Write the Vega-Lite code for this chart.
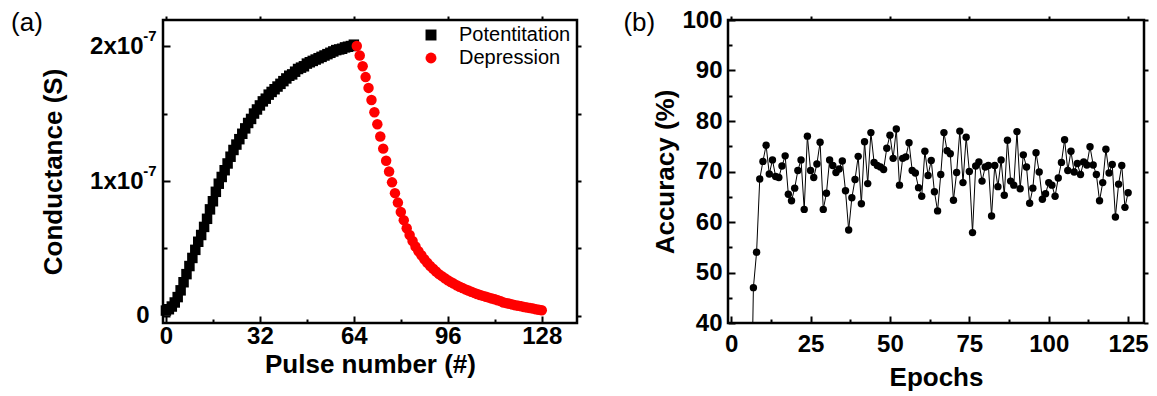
{
"$schema": "https://vega.github.io/schema/vega-lite/v6.json",
"padding": {"left": 9, "top": 6, "right": 5, "bottom": 5},
"spacing": 38,
"config": {
  "font": "Liberation Sans",
  "view": {"stroke": "black", "strokeWidth": 2.5},
  "axis": {"domain": false, "grid": false, "labelFont": "Liberation Sans", "labelFontWeight": "bold", "labelFontSize": 24, "labelColor": "black", "titleFont": "Liberation Sans", "titleFontWeight": "bold", "titleFontSize": 26, "titleColor": "black", "tickColor": "black", "tickWidth": 2}
},
"datasets": {
"cond": [
{"p":0,"g":0.04e-7,"t":"Potentitation"},{"p":1,"g":0.05e-7,"t":"Potentitation"},{"p":2,"g":0.07e-7,"t":"Potentitation"},{"p":3,"g":0.10e-7,"t":"Potentitation"},{"p":4,"g":0.14e-7,"t":"Potentitation"},{"p":5,"g":0.19e-7,"t":"Potentitation"},{"p":6,"g":0.25e-7,"t":"Potentitation"},{"p":7,"g":0.31e-7,"t":"Potentitation"},{"p":8,"g":0.37e-7,"t":"Potentitation"},{"p":9,"g":0.43e-7,"t":"Potentitation"},{"p":10,"g":0.49e-7,"t":"Potentitation"},{"p":11,"g":0.55e-7,"t":"Potentitation"},{"p":12,"g":0.60e-7,"t":"Potentitation"},{"p":13,"g":0.66e-7,"t":"Potentitation"},{"p":14,"g":0.72e-7,"t":"Potentitation"},{"p":15,"g":0.79e-7,"t":"Potentitation"},{"p":16,"g":0.85e-7,"t":"Potentitation"},{"p":17,"g":0.92e-7,"t":"Potentitation"},{"p":18,"g":0.98e-7,"t":"Potentitation"},{"p":19,"g":1.03e-7,"t":"Potentitation"},{"p":20,"g":1.08e-7,"t":"Potentitation"},{"p":21,"g":1.13e-7,"t":"Potentitation"},{"p":22,"g":1.18e-7,"t":"Potentitation"},{"p":23,"g":1.23e-7,"t":"Potentitation"},{"p":24,"g":1.27e-7,"t":"Potentitation"},{"p":25,"g":1.31e-7,"t":"Potentitation"},{"p":26,"g":1.35e-7,"t":"Potentitation"},{"p":27,"g":1.39e-7,"t":"Potentitation"},{"p":28,"g":1.43e-7,"t":"Potentitation"},{"p":29,"g":1.46e-7,"t":"Potentitation"},{"p":30,"g":1.50e-7,"t":"Potentitation"},{"p":31,"g":1.53e-7,"t":"Potentitation"},{"p":32,"g":1.56e-7,"t":"Potentitation"},{"p":33,"g":1.59e-7,"t":"Potentitation"},{"p":34,"g":1.61e-7,"t":"Potentitation"},{"p":35,"g":1.64e-7,"t":"Potentitation"},{"p":36,"g":1.66e-7,"t":"Potentitation"},{"p":37,"g":1.68e-7,"t":"Potentitation"},{"p":38,"g":1.70e-7,"t":"Potentitation"},{"p":39,"g":1.72e-7,"t":"Potentitation"},{"p":40,"g":1.74e-7,"t":"Potentitation"},{"p":41,"g":1.76e-7,"t":"Potentitation"},{"p":42,"g":1.78e-7,"t":"Potentitation"},{"p":43,"g":1.79e-7,"t":"Potentitation"},{"p":44,"g":1.81e-7,"t":"Potentitation"},{"p":45,"g":1.83e-7,"t":"Potentitation"},{"p":46,"g":1.84e-7,"t":"Potentitation"},{"p":47,"g":1.85e-7,"t":"Potentitation"},{"p":48,"g":1.87e-7,"t":"Potentitation"},{"p":49,"g":1.88e-7,"t":"Potentitation"},{"p":50,"g":1.89e-7,"t":"Potentitation"},{"p":51,"g":1.90e-7,"t":"Potentitation"},{"p":52,"g":1.91e-7,"t":"Potentitation"},{"p":53,"g":1.92e-7,"t":"Potentitation"},{"p":54,"g":1.93e-7,"t":"Potentitation"},{"p":55,"g":1.94e-7,"t":"Potentitation"},{"p":56,"g":1.95e-7,"t":"Potentitation"},{"p":57,"g":1.96e-7,"t":"Potentitation"},{"p":58,"g":1.97e-7,"t":"Potentitation"},{"p":59,"g":1.975e-7,"t":"Potentitation"},{"p":60,"g":1.98e-7,"t":"Potentitation"},{"p":61,"g":1.99e-7,"t":"Potentitation"},{"p":62,"g":1.995e-7,"t":"Potentitation"},{"p":63,"g":2.00e-7,"t":"Potentitation"},{"p":64,"g":2.01e-7,"t":"Potentitation"},
{"p":65,"g":2.00e-7,"t":"Depression"},{"p":66,"g":1.93e-7,"t":"Depression"},{"p":67,"g":1.85e-7,"t":"Depression"},{"p":68,"g":1.77e-7,"t":"Depression"},{"p":69,"g":1.69e-7,"t":"Depression"},{"p":70,"g":1.60e-7,"t":"Depression"},{"p":71,"g":1.51e-7,"t":"Depression"},{"p":72,"g":1.42e-7,"t":"Depression"},{"p":73,"g":1.33e-7,"t":"Depression"},{"p":74,"g":1.24e-7,"t":"Depression"},{"p":75,"g":1.15e-7,"t":"Depression"},{"p":76,"g":1.07e-7,"t":"Depression"},{"p":77,"g":0.99e-7,"t":"Depression"},{"p":78,"g":0.91e-7,"t":"Depression"},{"p":79,"g":0.84e-7,"t":"Depression"},{"p":80,"g":0.77e-7,"t":"Depression"},{"p":81,"g":0.71e-7,"t":"Depression"},{"p":82,"g":0.65e-7,"t":"Depression"},{"p":83,"g":0.60e-7,"t":"Depression"},{"p":84,"g":0.555e-7,"t":"Depression"},{"p":85,"g":0.515e-7,"t":"Depression"},{"p":86,"g":0.48e-7,"t":"Depression"},{"p":87,"g":0.45e-7,"t":"Depression"},{"p":88,"g":0.42e-7,"t":"Depression"},{"p":89,"g":0.395e-7,"t":"Depression"},{"p":90,"g":0.37e-7,"t":"Depression"},{"p":91,"g":0.35e-7,"t":"Depression"},{"p":92,"g":0.33e-7,"t":"Depression"},{"p":93,"g":0.31e-7,"t":"Depression"},{"p":94,"g":0.295e-7,"t":"Depression"},{"p":95,"g":0.28e-7,"t":"Depression"},{"p":96,"g":0.265e-7,"t":"Depression"},{"p":97,"g":0.252e-7,"t":"Depression"},{"p":98,"g":0.24e-7,"t":"Depression"},{"p":99,"g":0.228e-7,"t":"Depression"},{"p":100,"g":0.217e-7,"t":"Depression"},{"p":101,"g":0.207e-7,"t":"Depression"},{"p":102,"g":0.197e-7,"t":"Depression"},{"p":103,"g":0.188e-7,"t":"Depression"},{"p":104,"g":0.179e-7,"t":"Depression"},{"p":105,"g":0.171e-7,"t":"Depression"},{"p":106,"g":0.163e-7,"t":"Depression"},{"p":107,"g":0.156e-7,"t":"Depression"},{"p":108,"g":0.149e-7,"t":"Depression"},{"p":109,"g":0.142e-7,"t":"Depression"},{"p":110,"g":0.136e-7,"t":"Depression"},{"p":111,"g":0.13e-7,"t":"Depression"},{"p":112,"g":0.124e-7,"t":"Depression"},{"p":113,"g":0.117e-7,"t":"Depression"},{"p":114,"g":0.11e-7,"t":"Depression"},{"p":115,"g":0.10e-7,"t":"Depression"},{"p":116,"g":0.095e-7,"t":"Depression"},{"p":117,"g":0.09e-7,"t":"Depression"},{"p":118,"g":0.085e-7,"t":"Depression"},{"p":119,"g":0.08e-7,"t":"Depression"},{"p":120,"g":0.076e-7,"t":"Depression"},{"p":121,"g":0.072e-7,"t":"Depression"},{"p":122,"g":0.067e-7,"t":"Depression"},{"p":123,"g":0.063e-7,"t":"Depression"},{"p":124,"g":0.059e-7,"t":"Depression"},{"p":125,"g":0.055e-7,"t":"Depression"},{"p":126,"g":0.05e-7,"t":"Depression"},{"p":127,"g":0.046e-7,"t":"Depression"},{"p":128,"g":0.042e-7,"t":"Depression"}
],
"acc": [
{"e":1,"a":10},{"e":2,"a":10},{"e":3,"a":10},{"e":4,"a":10},{"e":5,"a":10},{"e":6,"a":10},
{"e":7,"a":47},{"e":8,"a":54},{"e":9,"a":68.5},{"e":10,"a":72},{"e":11,"a":75.2},{"e":12,"a":69.5},{"e":13,"a":72.3},{"e":14,"a":69},{"e":15,"a":68.8},{"e":16,"a":71.1},{"e":17,"a":73.1},{"e":18,"a":65.5},{"e":19,"a":64.2},{"e":20,"a":66.7},{"e":21,"a":70.2},{"e":22,"a":72.3},{"e":23,"a":62.5},{"e":24,"a":77},{"e":25,"a":70.2},{"e":26,"a":68.8},{"e":27,"a":71.5},{"e":28,"a":75.8},{"e":29,"a":62.5},{"e":30,"a":65.7},{"e":31,"a":72.3},{"e":32,"a":71.2},{"e":33,"a":69.8},{"e":34,"a":70.5},{"e":35,"a":72.1},{"e":36,"a":66.2},{"e":37,"a":58.4},{"e":38,"a":64.8},{"e":39,"a":68.4},{"e":40,"a":73},{"e":41,"a":63.6},{"e":42,"a":75.9},{"e":43,"a":67.6},{"e":44,"a":77.7},{"e":45,"a":71.8},{"e":46,"a":71.2},{"e":47,"a":70.9},{"e":48,"a":70.4},{"e":49,"a":74.6},{"e":50,"a":77.2},{"e":51,"a":72.6},{"e":52,"a":78.4},{"e":53,"a":67.3},{"e":54,"a":72.6},{"e":55,"a":72.9},{"e":56,"a":75.7},{"e":57,"a":70.2},{"e":58,"a":69.7},{"e":59,"a":66.8},{"e":60,"a":65.1},{"e":61,"a":74},{"e":62,"a":69.2},{"e":63,"a":72.2},{"e":64,"a":66},{"e":65,"a":62.2},{"e":66,"a":69.4},{"e":67,"a":77.7},{"e":68,"a":74.1},{"e":69,"a":73.5},{"e":70,"a":64.3},{"e":71,"a":69.8},{"e":72,"a":78},{"e":73,"a":67.8},{"e":74,"a":76.8},{"e":75,"a":70},{"e":76,"a":57.9},{"e":77,"a":71.1},{"e":78,"a":71.9},{"e":79,"a":68.1},{"e":80,"a":70.9},{"e":81,"a":71.2},{"e":82,"a":61.2},{"e":83,"a":71.2},{"e":84,"a":67},{"e":85,"a":72.3},{"e":86,"a":65.3},{"e":87,"a":76.2},{"e":88,"a":68.1},{"e":89,"a":67.3},{"e":90,"a":77.9},{"e":91,"a":66.6},{"e":92,"a":73.3},{"e":93,"a":70.9},{"e":94,"a":63.7},{"e":95,"a":66.7},{"e":96,"a":73.7},{"e":97,"a":69.9},{"e":98,"a":64.5},{"e":99,"a":65.6},{"e":100,"a":67.8},{"e":101,"a":67.3},{"e":102,"a":65.1},{"e":103,"a":68.7},{"e":104,"a":71.8},{"e":105,"a":76.3},{"e":106,"a":70.2},{"e":107,"a":74},{"e":108,"a":69.9},{"e":109,"a":71.6},{"e":110,"a":69.4},{"e":111,"a":71.9},{"e":112,"a":71.3},{"e":113,"a":74.9},{"e":114,"a":71.3},{"e":115,"a":69.4},{"e":116,"a":64.2},{"e":117,"a":67.8},{"e":118,"a":74.4},{"e":119,"a":69.7},{"e":120,"a":71.4},{"e":121,"a":61},{"e":122,"a":67.5},{"e":123,"a":71.2},{"e":124,"a":62.9},{"e":125,"a":65.8}
]
},
"hconcat": [
{
  "width": 414, "height": 303,
  "title": {"text": "(a)", "orient": "left", "anchor": "end", "frame": "group", "angle": 0, "align": "right", "baseline": "top", "offset": -34, "dy": -10, "fontSize": 26, "fontWeight": "normal", "font": "Liberation Sans", "color": "black"},
  "data": {"name": "cond"},
  "resolve": {"axis": {"x": "independent", "y": "independent"}},
  "layer": [
    {
      "mark": {"type": "point", "filled": true, "opacity": 1, "size": 110},
      "encoding": {
        "x": {"field": "p", "type": "quantitative", "scale": {"domain": [-1, 140], "nice": false, "zero": false},
              "axis": {"orient": "bottom", "values": [0,16,32,48,64,80,96,112,128], "labelExpr": "datum.value % 32 == 0 ? datum.label : ''",
                       "tickSize": {"condition": {"test": "datum.value % 32 == 0", "value": -7}, "value": -4},
                       "labelPadding": 8, "title": "Pulse number (#)", "titlePadding": 3}},
        "y": {"field": "g", "type": "quantitative", "scale": {"domain": [-0.052e-7, 2.193e-7], "nice": false, "zero": false},
              "axis": {"orient": "left", "values": [0, 0.5e-7, 1e-7, 1.5e-7, 2e-7],
                       "labelExpr": "datum.value == 0 ? '0' : (datum.value == 1e-7 ? '1x10' : (datum.value == 2e-7 ? '2x10' : ''))",
                       "tickSize": {"condition": {"test": "datum.value == 0 || datum.value == 1e-7 || datum.value == 2e-7", "value": -7}, "value": -4},
                       "labelPadding": {"condition": {"test": "datum.value == 0", "value": 21}, "value": 27},
                       "title": "Conductance (S)", "titlePadding": 23}},
        "shape": {"field": "t", "type": "nominal", "scale": {"domain": ["Potentitation", "Depression"], "range": ["square", "circle"]},
                  "legend": {"title": null, "orient": "none", "legendX": 258, "legendY": 5, "labelFontSize": 20, "labelFont": "Liberation Sans", "labelColor": "black", "symbolSize": 120, "rowPadding": 3, "labelOffset": 18, "padding": 0}},
        "color": {"field": "t", "type": "nominal", "scale": {"domain": ["Potentitation", "Depression"], "range": ["#000000", "#ff0000"]},
                  "legend": {"title": null, "orient": "none", "legendX": 258, "legendY": 5, "labelFontSize": 20, "labelFont": "Liberation Sans", "labelColor": "black", "symbolSize": 120, "rowPadding": 3, "labelOffset": 18, "padding": 0}}
      }
    },
    {
      "mark": {"type": "point", "opacity": 0},
      "encoding": {
        "x": {"field": "p", "type": "quantitative", "scale": {"domain": [-1, 140], "nice": false, "zero": false},
              "axis": {"orient": "top", "values": [0,32,64,96,128], "labels": false, "tickSize": 4, "title": null}},
        "y": {"field": "g", "type": "quantitative", "scale": {"domain": [-0.052e-7, 2.193e-7], "nice": false, "zero": false},
              "axis": {"orient": "left", "values": [1e-7, 2e-7], "labelExpr": "'-7'", "ticks": false, "labelFontSize": 15, "labelPadding": 7, "labelOffset": -11, "title": null}}
      }
    },
    {
      "mark": {"type": "point", "opacity": 0},
      "encoding": {
        "x": {"field": "p", "type": "quantitative", "scale": {"domain": [-1, 140], "nice": false, "zero": false}, "axis": null},
        "y": {"field": "g", "type": "quantitative", "scale": {"domain": [-0.052e-7, 2.193e-7], "nice": false, "zero": false},
              "axis": {"orient": "right", "values": [0, 0.5e-7, 1e-7, 1.5e-7, 2e-7], "labels": false, "tickSize": 4, "title": null}}
      }
    }
  ]
},
{
  "width": 416, "height": 303,
  "title": {"text": "(b)", "orient": "left", "anchor": "end", "frame": "group", "angle": 0, "align": "right", "baseline": "top", "offset": -34, "dy": -10, "fontSize": 26, "fontWeight": "normal", "font": "Liberation Sans", "color": "black"},
  "data": {"name": "acc"},
  "resolve": {"axis": {"x": "independent", "y": "independent"}},
  "layer": [
    {
      "mark": {"type": "line", "color": "black", "strokeWidth": 1, "clip": true},
      "encoding": {
        "x": {"field": "e", "type": "quantitative", "scale": {"domain": [-1, 130], "nice": false, "zero": false},
              "axis": {"orient": "bottom", "values": [0,12.5,25,37.5,50,62.5,75,87.5,100,112.5,125], "labelExpr": "datum.value % 25 == 0 ? datum.label : ''",
                       "tickSize": {"condition": {"test": "datum.value % 25 == 0", "value": -7}, "value": -4},
                       "labelPadding": 16, "title": "Epochs", "titlePadding": 8}},
        "y": {"field": "a", "type": "quantitative", "scale": {"domain": [40, 100], "nice": false, "zero": false},
              "axis": {"orient": "left", "values": [40,45,50,55,60,65,70,75,80,85,90,95,100], "labelExpr": "datum.value % 10 == 0 ? datum.label : ''",
                       "tickSize": {"condition": {"test": "datum.value % 10 == 0", "value": -7}, "value": -4},
                       "labelPadding": 13, "title": "Accuracy (%)", "titlePadding": 3}}
      }
    },
    {
      "mark": {"type": "point", "filled": true, "color": "black", "opacity": 1, "size": 55, "clip": true},
      "encoding": {
        "x": {"field": "e", "type": "quantitative", "scale": {"domain": [-1, 130], "nice": false, "zero": false},
              "axis": {"orient": "top", "values": [0,25,50,75,100,125], "labels": false, "tickSize": 4, "title": null}},
        "y": {"field": "a", "type": "quantitative", "scale": {"domain": [40, 100], "nice": false, "zero": false},
              "axis": {"orient": "right", "values": [40,50,60,70,80,90,100], "labels": false, "tickSize": 4, "title": null}}
      }
    }
  ]
}
]
}
